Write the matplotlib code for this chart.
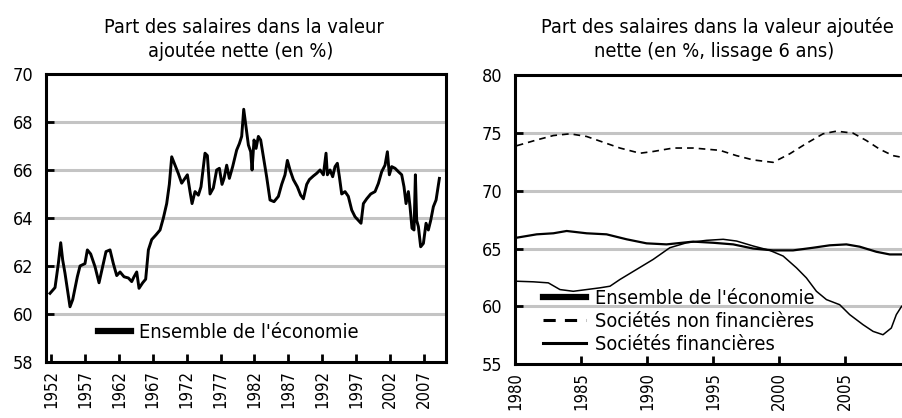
import matplotlib
matplotlib.use("Agg")
import matplotlib.pyplot as plt

plt.rcParams['font.family'] = ['DejaVu Sans']
plt.rcParams['font.stretch'] = 'condensed'

# left panel: part des salaires, ensemble de l'economie (brut)
years_left = [1951.85, 1952.59, 1953.08, 1953.43, 1953.72, 1954.06, 1954.80, 1955.20,
              1955.88, 1956.28, 1957.01, 1957.36, 1957.85, 1958.49, 1959.08, 1959.47,
              1960.11, 1960.70, 1961.19, 1961.69, 1962.18, 1962.77, 1963.41, 1963.90,
              1964.24, 1964.64, 1964.98, 1965.52, 1965.96, 1966.36, 1966.85, 1967.49,
              1968.08, 1968.57, 1969.06, 1969.45, 1969.80, 1970.29, 1970.78, 1971.27,
              1971.76, 1972.11, 1972.50, 1972.80, 1973.24, 1973.73, 1974.12, 1974.71,
              1975.06, 1975.45, 1975.94, 1976.43, 1976.83, 1977.22, 1977.52, 1977.91,
              1978.30, 1978.79, 1979.38, 1979.78, 1980.12, 1980.42, 1980.76, 1981.11,
              1981.45, 1981.65, 1981.94, 1982.24, 1982.58, 1982.92, 1983.32, 1983.81,
              1984.30, 1984.89, 1985.53, 1986.02, 1986.51, 1986.86, 1987.25, 1987.74,
              1988.33, 1988.82, 1989.22, 1989.71, 1990.10, 1990.69, 1991.18, 1991.68,
              1992.17, 1992.56, 1992.76, 1993.15, 1993.54, 1993.89, 1994.23, 1994.53,
              1994.87, 1995.36, 1995.85, 1996.35, 1996.84, 1997.33, 1997.72, 1998.07,
              1998.56, 1999.15, 1999.79, 2000.28, 2000.77, 2001.26, 2001.61, 2001.90,
              2002.25, 2002.74, 2003.23, 2003.72, 2004.06, 2004.36, 2004.70, 2004.95,
              2005.24, 2005.54, 2005.74, 2005.93, 2006.18, 2006.52, 2006.92, 2007.31,
              2007.65, 2008.00, 2008.39, 2008.79, 2009.28]
part_ensemble = [60.86, 61.10, 62.10, 62.97, 62.25, 61.70, 60.30, 60.60,
                 61.55, 62.00, 62.10, 62.67, 62.50, 61.97, 61.30, 61.80,
                 62.60, 62.67, 62.10, 61.60, 61.75, 61.55, 61.50, 61.35,
                 61.55, 61.75, 61.07, 61.30, 61.45, 62.67, 63.10, 63.30,
                 63.50, 64.00, 64.60, 65.40, 66.55, 66.20, 65.85, 65.45,
                 65.65, 65.80, 65.10, 64.60, 65.10, 64.95, 65.30, 66.70,
                 66.60, 65.00, 65.25, 66.00, 66.07, 65.40, 65.65, 66.20,
                 65.65, 66.14, 66.83, 67.10, 67.40, 68.53, 67.80, 67.04,
                 66.76, 66.00, 67.25, 66.90, 67.40, 67.25, 66.55, 65.70,
                 64.75, 64.68, 64.90, 65.40, 65.80, 66.40, 66.00, 65.60,
                 65.30, 64.95, 64.80, 65.40, 65.60, 65.75, 65.86, 66.00,
                 65.80, 66.70, 65.80, 66.00, 65.72, 66.14, 66.28, 65.72,
                 65.00, 65.10, 64.90, 64.33, 64.05, 63.90, 63.78, 64.60,
                 64.80, 65.00, 65.10, 65.44, 65.93, 66.20, 66.76, 65.80,
                 66.14, 66.07, 65.93, 65.80, 65.30, 64.60, 65.10, 64.47,
                 63.57, 63.50, 65.80, 63.90, 63.64, 62.80, 62.94, 63.78,
                 63.50, 63.90, 64.47, 64.75, 65.65]

# right panel: lissage 6 ans
years_ens = [1980.13, 1981.64, 1982.90, 1983.91, 1985.42, 1986.93, 1988.45, 1989.96,
             1991.47, 1993.49, 1995.00, 1996.52, 1998.03, 1999.54, 2001.05, 2002.57,
             2003.83, 2005.09, 2006.10, 2007.36, 2008.37, 2009.27]
lisse_ens = [65.94, 66.23, 66.32, 66.52, 66.32, 66.23, 65.80, 65.45,
             65.36, 65.60, 65.50, 65.36, 65.00, 64.84, 64.84, 65.07,
             65.28, 65.36, 65.16, 64.72, 64.49, 64.49]

years_snf = [1980.13, 1981.64, 1982.90, 1984.16, 1985.42, 1986.68, 1987.94, 1989.46,
             1990.46, 1991.98, 1993.49, 1995.51, 1996.77, 1998.03, 1999.54, 2000.80,
             2002.06, 2003.32, 2004.33, 2005.59, 2006.60, 2007.61, 2008.62, 2009.27]
lisse_snf = [73.90, 74.40, 74.78, 74.93, 74.70, 74.20, 73.70, 73.25,
             73.40, 73.70, 73.70, 73.50, 73.04, 72.67, 72.46, 73.20,
             74.10, 74.93, 75.16, 74.99, 74.35, 73.60, 73.04, 72.90]

years_sf = [1980.13, 1981.39, 1982.52, 1983.40, 1984.41, 1985.42, 1986.43, 1987.19,
            1987.94, 1989.20, 1990.46, 1991.72, 1992.99, 1994.50, 1995.76, 1996.77,
            1998.03, 1999.29, 2000.30, 2001.31, 2002.06, 2002.82, 2003.58, 2004.58,
            2005.34, 2006.35, 2007.11, 2007.86, 2008.49, 2008.87, 2009.27]
lisse_sf = [62.17, 62.12, 62.03, 61.45, 61.30, 61.45, 61.60, 61.74,
            62.32, 63.19, 64.06, 65.07, 65.50, 65.71, 65.80, 65.65,
            65.22, 64.84, 64.35, 63.33, 62.46, 61.30, 60.58, 60.14,
            59.28, 58.41, 57.83, 57.54, 58.12, 59.28, 60.00]

ticks_left = list(range(1952, 2008, 5))
ticks_right = list(range(1980, 2006, 5))

fig = plt.figure(figsize=(9.02, 4.18), dpi=100)
fig.patch.set_facecolor('white')

ax1 = fig.add_axes((0.051, 0.134, 0.4435, 0.689))
ax2 = fig.add_axes((0.571, 0.129, 0.429, 0.691))

grid_col = '#c4c4c4'
fs = 14.3

for ax in (ax1, ax2):
    for s in ax.spines.values():
        s.set_linewidth(2.2)
    ax.tick_params(direction='in', length=6, width=2, labelsize=13, pad=9)
    ax.tick_params(axis='x', labelrotation=90, labelsize=12, pad=6)

# left
ax1.set_xlim(1951.26, 2010.26)
ax1.set_ylim(58, 70)
ax1.set_yticks(range(58, 71, 2))
ax1.set_xticks(ticks_left)
for v in range(60, 70, 2):
    ax1.axhline(v, color=grid_col, lw=2.2, zorder=0)
ax1.plot(years_left, part_ensemble, color='black', lw=2.1, label="Ensemble de l'économie")
ax1.legend(loc='center left', bbox_to_anchor=(0.13, 0.104), frameon=False,
           fontsize=fs, borderpad=0, borderaxespad=0, handlelength=1.65,
           handletextpad=0.4, handleheight=0.5)
ax1.get_legend().get_lines()[0].set_linewidth(4.5)

# right
ax2.set_xlim(1980, 2009.3)
ax2.set_ylim(55, 80)
ax2.set_yticks(range(55, 81, 5))
ax2.set_xticks(ticks_right)
ax2.spines['right'].set_visible(False)
for v in range(60, 80, 5):
    ax2.axhline(v, color=grid_col, lw=2.2, zorder=0)
ax2.plot(years_ens, lisse_ens, color='black', lw=1.6, label="Ensemble de l'économie")
ax2.plot(years_snf, lisse_snf, color='black', lw=1.2, dashes=(4, 3),
         label='Sociétés non financières')
ax2.plot(years_sf, lisse_sf, color='black', lw=1.1, label='Sociétés financières')
leg = ax2.legend(loc='center left', bbox_to_anchor=(0.072, 0.149), frameon=False,
                 fontsize=fs, borderpad=0, borderaxespad=0, handlelength=2.15,
                 handletextpad=0.45, labelspacing=0.2)
leg.get_lines()[0].set_linewidth(4.5)
leg.get_lines()[1].set_linewidth(2.2)
leg.get_lines()[2].set_linewidth(2.2)

# titles
fig.text(244 / 902, 1 - 33 / 418, 'Part des salaires dans la valeur',
         ha='center', va='baseline', fontsize=fs)
fig.text(241 / 902, 1 - 57 / 418, 'ajoutée nette (en %)',
         ha='center', va='baseline', fontsize=fs)
fig.text(717 / 902, 1 - 33 / 418, 'Part des salaires dans la valeur ajoutée',
         ha='center', va='baseline', fontsize=fs)
fig.text(714 / 902, 1 - 57 / 418, 'nette (en %, lissage 6 ans)',
         ha='center', va='baseline', fontsize=fs)

fig.savefig('out.png', dpi=100, facecolor='white')
